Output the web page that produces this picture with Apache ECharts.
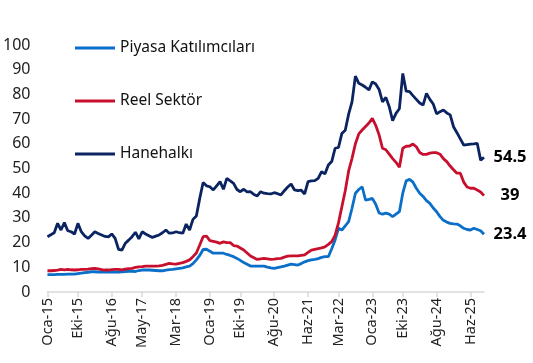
<!DOCTYPE html>
<html><head><meta charset="utf-8">
<script src="https://cdn.jsdelivr.net/npm/echarts@6/dist/echarts.min.js"></script>
<style>html,body{margin:0;padding:0;background:#fff}#c{width:533px;height:363px}</style>
</head><body><div id="c"></div>
<script>
const monthNames = ['Oca','Şub','Mar','Nis','May','Haz','Tem','Ağu','Eyl','Eki','Kas','Ara'];
const startYear = 2015;
const nMonths = 130;
const categories = [];
for (let i = 0; i < nMonths; i++) {
  categories.push(monthNames[i % 12] + '-' + String((startYear + Math.floor(i / 12)) % 100).padStart(2, '0'));
}
const tickLabels = ['Oca-15','Eki-15','Ağu-16','May-17','Mar-18','Oca-19','Eki-19','Ağu-20','Haz-21','Mar-22','Oca-23','Eki-23','Ağu-24','Haz-25'];
const yTicks = [0,10,20,30,40,50,60,70,80,90,100];

const piyasa = [7.0,7.0,7.0,7.1,7.1,7.1,7.2,7.2,7.2,7.4,7.6,7.8,8.0,8.2,8.2,8.1,8.1,8.1,8.1,8.1,
8.1,8.1,8.2,8.3,8.4,8.4,8.3,8.7,8.9,8.9,8.9,8.8,8.7,8.6,8.6,8.9,9.1,9.2,9.4,9.6,
9.8,10.2,10.5,11.5,13.0,14.8,17.2,17.3,16.5,15.7,15.7,15.7,15.7,15.2,14.8,14.3,13.6,12.8,11.9,11.2,
10.5,10.5,10.5,10.5,10.5,10.1,9.8,9.6,9.9,10.2,10.5,10.9,11.3,11.1,10.9,11.5,12.2,12.7,13.0,13.2,
13.5,14.0,14.3,14.3,17.5,21.1,25.8,25.1,26.8,28.5,33.9,40.0,41.5,42.6,37.2,37.5,37.9,35.5,32.0,31.5,
31.9,31.5,30.5,31.5,32.5,40.0,45.0,45.6,44.5,42.0,40.0,38.7,37.0,35.9,34.0,32.5,30.5,29.0,28.3,27.8,
27.6,27.5,26.8,25.8,25.3,25.1,25.8,25.3,24.8,23.4];

const reel = [8.6,8.6,8.7,8.9,9.2,9.0,9.2,9.0,8.9,9.0,9.2,9.2,9.3,9.5,9.6,9.4,9.1,8.9,8.9,9.1,
9.2,9.2,9.0,9.3,9.5,9.6,10.0,10.2,10.3,10.5,10.5,10.5,10.5,10.6,10.8,11.2,11.6,11.4,11.3,11.6,
11.9,12.4,13.0,14.3,15.8,19.0,22.4,22.6,20.8,20.5,20.2,19.7,20.3,20.0,20.0,18.8,18.6,17.8,17.0,15.8,
14.6,13.9,13.2,13.4,13.6,13.4,13.2,13.3,13.5,13.6,14.1,14.5,14.6,14.6,14.6,14.8,15.0,16.0,17.0,17.3,
17.6,17.9,18.3,19.3,20.4,23.0,28.0,34.5,41.0,49.0,54.1,60.0,64.0,65.6,67.0,68.4,70.3,67.5,63.6,58.2,
57.6,55.8,54.0,52.5,50.5,58.2,59.0,59.1,59.9,58.8,56.5,55.7,55.7,56.2,56.4,56.4,55.8,54.0,52.8,51.0,
49.5,48.1,48.1,44.5,42.5,42.0,42.0,41.3,40.5,39.0];

const hane = [22.4,23.2,24.0,27.8,25.1,28.1,24.8,24.4,23.5,27.8,24.4,22.7,21.7,23.0,24.4,23.7,23.1,22.5,22.3,23.5,
21.7,17.3,17.0,19.7,21.0,22.4,24.2,21.5,24.4,23.5,22.8,22.1,22.6,23.1,24.0,25.1,23.8,23.9,24.4,24.0,
23.8,27.5,25.1,29.4,30.8,37.9,44.3,43.0,42.6,41.3,43.0,44.7,41.6,46.0,45.0,44.0,41.5,40.6,41.6,40.5,
40.6,39.5,38.9,40.6,40.0,39.8,39.7,40.2,39.8,39.3,41.0,42.5,43.7,41.3,41.0,41.2,39.7,44.7,45.0,45.1,
46.0,48.7,47.8,51.4,52.8,58.2,58.5,64.2,65.5,72.0,77.0,87.4,84.5,83.8,82.9,81.8,85.1,84.2,82.0,77.0,
78.8,75.0,69.4,72.3,74.2,88.5,81.3,81.1,79.5,78.0,76.5,75.7,80.4,78.0,76.1,72.1,73.0,73.7,72.5,71.7,
66.9,64.5,62.0,59.5,59.7,59.9,60.0,60.2,53.4,54.5];

const seriesNames = ['Piyasa Katılımcıları','Reel Sektör','Hanehalkı'];
const colors = ['#0A6FC8','#C8102E','#0B2461'];
const FONT = 'Noto Sans';

const chart = echarts.init(document.getElementById('c'), null, {renderer:'canvas'});
const isTick = (idx, val) => tickLabels.indexOf(categories[idx]) >= 0;

function mkSeries(name, data, color) {
  return {
    name, type:'line', data, showSymbol:false, symbol:'none',
    lineStyle:{color, width:2.8}, itemStyle:{color},
    endLabel:{show:true, formatter: p => String(p.value), color:'#000', fontFamily:FONT,
      fontSize:16.5, fontWeight:'bold', align:'center', distance:26},
    animation:false
  };
}

chart.setOption({
  animation:false,
  grid:{left:47, right:49, top:45, bottom:71},
  legend:{
    orient:'vertical', left:70, top:35, itemGap:37,
    icon:'rect', itemWidth:40, itemHeight:3,
    textStyle:{fontFamily:FONT, fontSize:15.5, color:'#111'},
    data:seriesNames
  },
  xAxis:{
    type:'category', data:categories, boundaryGap:false,
    axisLine:{lineStyle:{color:'#D9D9D9', width:1.5}},
    axisTick:{interval:isTick, length:5, lineStyle:{color:'#D9D9D9', width:1.5}},
    axisLabel:{interval:isTick, rotate:90, fontFamily:FONT, fontSize:14.5, color:'#222', margin:6},
    splitLine:{show:false}
  },
  yAxis:{
    type:'value', min:yTicks[0], max:yTicks[yTicks.length-1], interval:10,
    axisLine:{show:false}, axisTick:{show:false}, splitLine:{show:false},
    axisLabel:{fontFamily:FONT, fontSize:16, color:'#222', margin:17}
  },
  series:[
    mkSeries(seriesNames[0], piyasa, colors[0]),
    mkSeries(seriesNames[1], reel, colors[1]),
    mkSeries(seriesNames[2], hane, colors[2])
  ]
});
</script></body></html>
